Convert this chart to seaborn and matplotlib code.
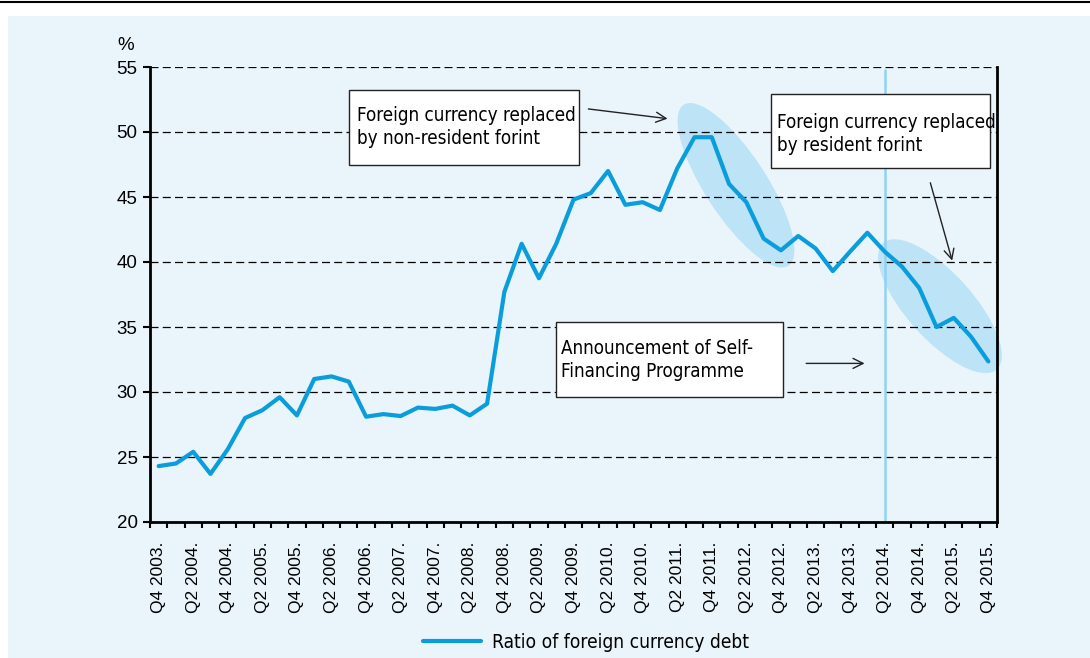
import numpy as np
import pandas as pd
import seaborn as sns
import matplotlib.pyplot as plt
from matplotlib.patches import Ellipse, Rectangle
from matplotlib.lines import Line2D
from matplotlib.transforms import ScaledTranslation

# quarters Q4 2003 .. Q4 2015
quarters = []
for yr in range(2003, 2016):
    for q in (1, 2, 3, 4):
        if (yr == 2003 and q < 4):
            continue
        quarters.append(f"Q{q} {yr}.")

ratio = [24.3, 24.5, 25.4, 23.7, 25.6, 28.0, 28.6, 29.6, 28.2, 31.0,
         31.2, 30.8, 28.1, 28.3, 28.15, 28.8, 28.7, 28.95, 28.2, 29.1,
         37.7, 41.4, 38.75, 41.4, 44.8, 45.3, 47.0, 44.4, 44.6, 44.0,
         47.2, 49.6, 49.6, 46.0, 44.6, 41.8, 40.9, 42.0, 41.05, 39.3,
         40.8, 42.25, 40.8, 39.65, 38.0, 35.0, 35.7, 34.25, 32.35]

df = pd.DataFrame({"q": np.arange(len(quarters)), "ratio": ratio})

line_col = "#0a9ddb"
panel_col = "#eaf4fb"
narrow = ["Liberation Sans Narrow", "DejaVu Sans"]

sns.set_style("white")
plt.rcParams["font.family"] = ["Liberation Sans", "DejaVu Sans"]
plt.rcParams["text.color"] = "black"
plt.rcParams["xtick.color"] = "black"
plt.rcParams["ytick.color"] = "black"

W, H = 1090, 658
fig = plt.figure(figsize=(W / 100, H / 100), dpi=100)
fig.patch.set_facecolor("white")

def fx(px):
    return px / W

def fy(py):
    return 1 - py / H

# light blue panel + top rule
fig.patches.append(Rectangle((fx(8), 0), 1 - fx(8), fy(16), transform=fig.transFigure,
                             facecolor=panel_col, edgecolor="none", zorder=-5))
fig.lines.append(Line2D([0, 1], [fy(1.5), fy(1.5)], transform=fig.transFigure,
                        color="black", lw=1.5))

ax = fig.add_axes([fx(150), fy(522), fx(997) - fx(150), fy(67) - fy(522)])
ax.set_facecolor(panel_col)

sns.lineplot(data=df, x="q", y="ratio", ax=ax, color=line_col, lw=3.0,
             label="Ratio of foreign currency debt", zorder=5)

ax.set_xlim(-0.5, len(quarters) - 0.5)
ax.set_ylim(20, 55)
ax.set_yticks(np.arange(20, 56, 5))
ax.set_xticks(np.arange(0, len(quarters), 2))
ax.set_xticklabels(quarters[::2], rotation=90, fontsize=12.5)
ax.set_xticks(np.arange(-0.5, len(quarters), 1), minor=True)
ax.tick_params(axis="x", which="major", bottom=True, length=0, pad=14)
ax.tick_params(axis="x", which="minor", bottom=True, length=4.5, width=1.5,
               color="black", direction="out")
ax.tick_params(axis="y", left=True, length=5, width=1.5, color="black",
               labelsize=13.5, pad=4)
ax.set_xlabel("")
ax.set_ylabel("")

ax.yaxis.grid(True, linestyle=(0, (6.4, 3.4)), color="black", lw=0.9)
ax.set_axisbelow(True)
for s in ("left", "bottom", "right"):
    ax.spines[s].set_visible(True)
    ax.spines[s].set_color("black")
    ax.spines[s].set_linewidth(2)
ax.spines["top"].set_visible(False)

fig.text(fx(126), fy(45), "%", fontsize=13.5, ha="center", va="center")

# vertical line at Q2 2014
ax.axvline(quarters.index("Q2 2014."), ymax=0.993, color="#8fd3f4", lw=1.8, zorder=2)

# shaded ellipses (shape in inches, centre in data coords)
def ellipse(cx, cy, w, h, ang):
    tr = fig.dpi_scale_trans + ScaledTranslation(cx, cy, ax.transData)
    e = Ellipse((0, 0), w, h, angle=ang, transform=tr, facecolor="#bde3f6",
                edgecolor="none", zorder=0.3, clip_on=False)
    ax.add_patch(e)

ellipse(33.4, 45.9, 1.92, 0.62, -57)
ellipse(45.2, 36.6, 1.70, 0.66, -48)

# annotation boxes
def box(x0, y0, x1, y1, txt, tx, ty):
    fig.patches.append(Rectangle((fx(x0), fy(y1)), fx(x1) - fx(x0), fy(y0) - fy(y1),
                                 transform=fig.transFigure, facecolor="white",
                                 edgecolor="#222222", lw=1, zorder=3))
    fig.text(fx(tx), fy(ty), txt, family=narrow, stretch="condensed", fontsize=13.5,
             ha="left", va="center", linespacing=1.3, zorder=4)

box(349, 90, 579, 165, "Foreign currency replaced\nby non-resident forint", 357, 127)
box(771, 94, 990, 168, "Foreign currency replaced\nby resident forint", 777, 134)
box(556, 322, 783, 397, "Announcement of Self-\nFinancing Programme", 561, 360)

arrow = dict(arrowstyle="->", lw=1, color="#222222", mutation_scale=18)
ax.annotate("", xy=(29.6, 51.0), xytext=(24.7, 51.8), arrowprops=arrow, annotation_clip=False)
ax.annotate("", xy=(45.95, 39.9), xytext=(44.6, 46.3), arrowprops=arrow, annotation_clip=False)
ax.annotate("", xy=(41.0, 32.2), xytext=(37.3, 32.2), arrowprops=arrow, annotation_clip=False)

leg = ax.legend(loc="center", bbox_to_anchor=(fx(586), fy(642)), bbox_transform=fig.transFigure,
                frameon=False, handlelength=3.0, handletextpad=0.6,
                prop={"family": narrow, "stretch": "condensed", "size": 13.8})

fig.savefig("out.png", dpi=100, facecolor=fig.get_facecolor())
